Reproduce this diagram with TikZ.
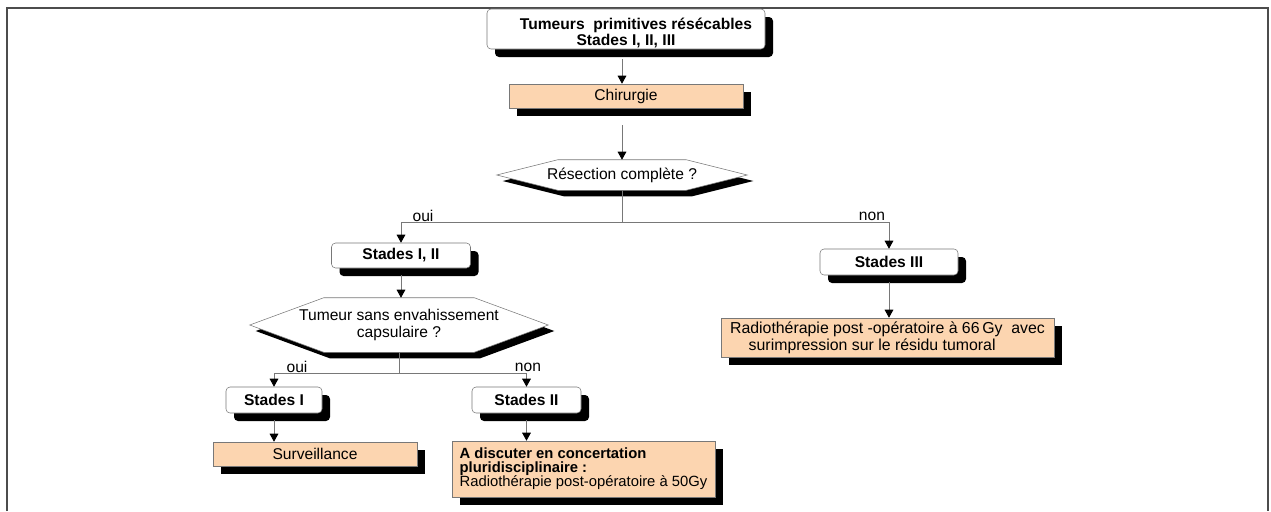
\documentclass[tikz,border=0pt]{standalone}
\usepackage{fontspec}
\setmainfont{Liberation Sans}
\usetikzlibrary{arrows.meta,shadows,calc,backgrounds}
\definecolor{peach}{RGB}{252,213,176}
\definecolor{edgegray}{RGB}{120,120,120}

\begin{document}
\begin{tikzpicture}[x=0.75pt,y=0.75pt,yscale=-1,xscale=1,
    every node/.style={font=\fontsize{11.7}{12.5}\selectfont},
    boldtxt/.style={font=\bfseries\fontsize{11.7}{12}\selectfont},
    stadebox/.style={draw=edgegray,fill=white,rounded corners=3pt,inner sep=0pt,
      general shadow={fill=black,shadow xshift=6pt,shadow yshift=-6pt}},
    actebox/.style={draw=edgegray,fill=peach,inner sep=0pt,
      general shadow={fill=black,shadow xshift=6pt,shadow yshift=-6pt}},
    question/.style={inner sep=0pt},
    hexline/.style={draw=edgegray,fill=white},
    conn/.style={draw=edgegray,line width=0.6pt,-{Triangle[width=6.5pt,length=6pt,color=black]}},
    branch/.style={inner sep=0.75pt}
    ]

            \useasboundingbox (0,0) rectangle (1271,511);

            % Frame
            \draw [line width=1.5pt, draw=black!70] (7,511) -- (7,8) -- (1268,8) -- (1268,511);

            % Boxes
            \node (top) [stadebox, boldtxt, minimum width=208.5pt, minimum height=30pt, align=center] at (626,29) {\rule{0pt}{15pt}\hspace*{15pt}Tumeurs\ \ primitives résécables\\Stades I, II, III};
            \node (chir) [actebox, minimum width=175.5pt, minimum height=18pt] at (626,96) {Chirurgie};
            \node (hexA) [question, minimum width=187.5pt, minimum height=22.5pt] at (622,175) {Résection complète ?};
            \node (stadeA) [stadebox, boldtxt, minimum width=104.25pt, minimum height=18.75pt] at (401,255.5) {Stades I, II};
            \node (stadeB) [stadebox, boldtxt, minimum width=103.5pt, minimum height=19.5pt] at (889,262) {Stades III};
            \node (radio66) [actebox, minimum width=249.75pt, minimum height=29.25pt, align=left, font=\fontsize{11.9}{12.5}\selectfont] at (887.5,337.5) {Radiothérapie post -opératoire à 66\,Gy\ \ avec\\\hspace*{14pt}surimpression sur le résidu tumoral};
            \node (hexB) [question, minimum width=223.5pt, minimum height=40.5pt, align=center] at (399,325) {Tumeur sans envahissement\\capsulaire ?};
            \node (stadeC) [stadebox, boldtxt, minimum width=72pt, minimum height=19.5pt] at (274,400) {Stades I};
            \node (stadeD) [stadebox, boldtxt, minimum width=81.75pt, minimum height=19.5pt] at (526.5,400) {Stades II};
            \node (surv) [actebox, minimum width=153pt, minimum height=18pt] at (315,454) {Surveillance};
            \node (disc) [actebox, minimum width=197.25pt, minimum height=42pt, align=left, font={\fontsize{11.1}{10.5}\selectfont\lineskiplimit=-6pt\relax}] at (583.5,469) {\textbf{A discuter en concertation}\\\textbf{pluridisciplinaire :}\\Radiothérapie post-opératoire à 50Gy};

            % Hexagons behind the questions
            \begin{pgfonlayer}{background}
            \foreach \n/\d in {hexA/61,hexB/74} {
                \fill [black] ($(\n.west)+(6,6)$) -- ($(\n.north west)+(\d+6,6)$) -- ($(\n.north east)+(6-\d,6)$) -- ($(\n.east)+(6,6)$) -- ($(\n.south east)+(6-\d,6)$) -- ($(\n.south west)+(\d+6,6)$) -- cycle;
                \draw [hexline] (\n.west) -- ($(\n.north west)+(\d,0)$) -- ($(\n.north east)+(-\d,0)$) -- (\n.east) -- ($(\n.south east)+(-\d,0)$) -- ($(\n.south west)+(\d,0)$) -- cycle;
            }
            \end{pgfonlayer}

            % Labels
            \node (ouiA) [branch] at (423,216) {oui};
            \node (nonA) [branch] at (872,216) {non};
            \node (ouiB) [branch] at (297,367) {oui};
            \node (nonB) [branch] at (528,367) {non};

            % Arrows
            \draw [conn] ($(top.south -| hexA.north)+(0,10)$) -- (hexA.north |- chir.north);
            \draw [conn] ($(chir.south -| hexA.north)+(0,17)$) -- (hexA.north);
            \draw [conn] (hexA.south) -- ++(0,32) -| (stadeA.north);
            \draw [conn] (hexA.south) ++(0,32) -| (stadeB.north);
            \draw [conn] ($(stadeA.south)+(0,7)$) -- (stadeA.south |- hexB.north);
            \draw [conn] ($(stadeB.south)+(0,7)$) -- (stadeB.south |- radio66.north);
            \draw [conn] (hexB.south) -- ++(0,21) -| (stadeC.north);
            \draw [conn] (hexB.south) ++(0,21) -| (stadeD.north);
            \draw [conn] ($(stadeC.south)+(0,7)$) -- (stadeC.south |- surv.north);
            \draw [conn] ($(stadeD.south)+(0,7)$) -- (stadeD.south |- disc.north);

\end{tikzpicture}
\end{document}
